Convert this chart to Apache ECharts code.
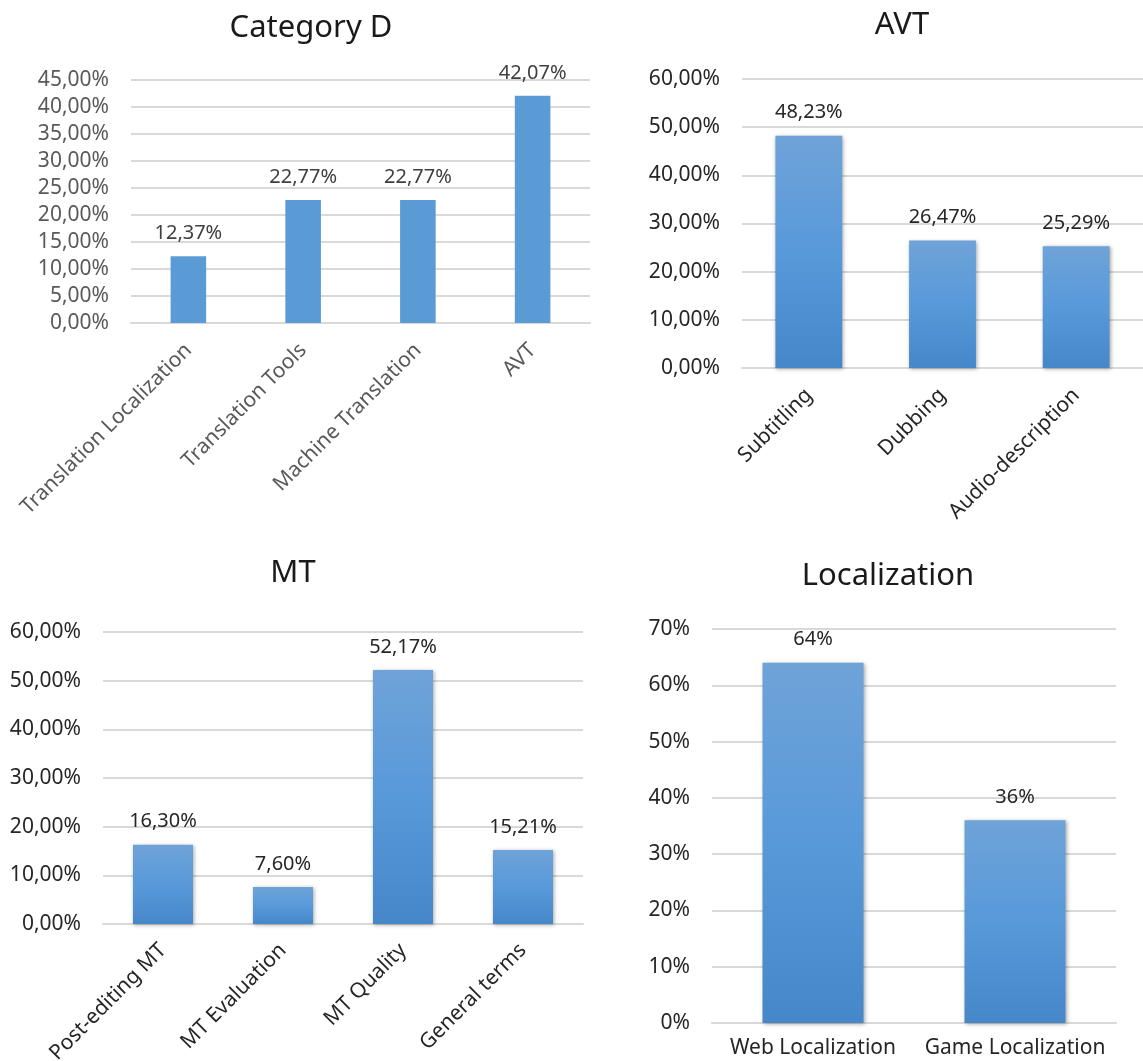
<!DOCTYPE html>
<html>
<head>
<meta charset="utf-8">
<script src="https://cdn.jsdelivr.net/npm/echarts@6/dist/echarts.min.js"></script>
<style>
  html, body { margin: 0; padding: 0; background: #ffffff; }
  #chart { width: 1143px; height: 1061px; }
</style>
</head>
<body>
<div id="chart"></div>
<script>
// Category D overview
const catDCategories = ['Translation Localization', 'Translation Tools', 'Machine Translation', 'AVT'];
const catDValues = [12.37, 22.77, 22.77, 42.07];
const catDAxis = [0, 45, 5];

// AVT breakdown
const avtCategories = ['Subtitling', 'Dubbing', 'Audio-description'];
const avtValues = [48.23, 26.47, 25.29];
const avtAxis = [0, 60, 10];

// MT breakdown
const mtCategories = ['Post-editing MT', 'MT Evaluation', 'MT Quality', 'General terms'];
const mtValues = [16.30, 7.60, 52.17, 15.21];
const mtAxis = [0, 60, 10];

// Localization breakdown
const locCategories = ['Web Localization', 'Game Localization'];
const locValues = [64, 36];
const locAxis = [0, 70, 10];

const FONT = '"Noto Sans", "Open Sans", sans-serif';
const GRID_COLOR = '#d9d9d9';

const pct2 = v => v.toFixed(2).replace('.', ',') + '%';
const pct0 = v => Math.round(v) + '%';

const gradientFill = () => new echarts.graphic.LinearGradient(0, 0, 0, 1, [
  { offset: 0, color: '#6fa3d8' },
  { offset: 0.5, color: '#5899da' },
  { offset: 1, color: '#4587c8' }
]);

function titleAt(text, x, y) {
  return {
    text: text, left: x, top: y, textAlign: 'center', padding: 0,
    textStyle: { fontFamily: FONT, fontSize: 31, fontWeight: 'normal', color: '#1a1a1a' }
  };
}

function gridBox(left, top, width, height) {
  // fixed plot rectangles; long rotated labels may run past the canvas edge
  return { left: left, top: top, width: width, height: height, containLabel: false, outerBoundsMode: 'none' };
}

function valueAxis(idx, range, fmt, color) {
  return {
    type: 'value', gridIndex: idx, min: range[0], max: range[1], interval: range[2],
    axisLine: { show: false }, axisTick: { show: false },
    splitLine: { lineStyle: { color: GRID_COLOR, width: 2 } },
    axisLabel: { formatter: fmt, color: color, fontFamily: FONT, fontSize: 21, margin: 22 }
  };
}

function categoryAxis(idx, cats, rotate, margin, color) {
  return {
    type: 'category', gridIndex: idx, data: cats,
    axisLine: { lineStyle: { color: GRID_COLOR, width: 2 } },
    axisTick: { show: false },
    axisLabel: { rotate: rotate, interval: 0, margin: margin, color: color, fontFamily: FONT, fontSize: 21 }
  };
}

function barSeries(idx, values, fmt, gap, fill, labelColor, shadow) {
  const s = {
    type: 'bar', xAxisIndex: idx, yAxisIndex: idx, data: values,
    barCategoryGap: gap,
    itemStyle: { color: fill },
    label: { show: true, position: 'top', distance: 13, formatter: p => fmt(p.value),
             color: labelColor, fontFamily: FONT, fontSize: 20 },
    silent: true, animation: false
  };
  if (shadow) {
    s.itemStyle.shadowColor = 'rgba(0,0,0,0.35)';
    s.itemStyle.shadowBlur = 4;
    s.itemStyle.shadowOffsetX = 1;
    s.itemStyle.shadowOffsetY = 1;
  }
  return s;
}

const chart = echarts.init(document.getElementById('chart'), null, { renderer: 'canvas' });

chart.setOption({
  backgroundColor: '#ffffff',
  animation: false,
  title: [
    titleAt('Category D', 311, 13),
    titleAt('AVT', 902, 10),
    titleAt('MT', 293, 558),
    titleAt('Localization', 888, 561)
  ],
  grid: [
    gridBox(131, 80, 459, 243),
    gridBox(742, 79, 401, 289),
    gridBox(103, 632, 480, 292),
    gridBox(712, 629, 404, 394)
  ],
  xAxis: [
    categoryAxis(0, catDCategories, 45, 24, '#595959'),
    categoryAxis(1, avtCategories, 45, 24, '#262626'),
    categoryAxis(2, mtCategories, 45, 23, '#262626'),
    categoryAxis(3, locCategories, 0, 15, '#262626')
  ],
  yAxis: [
    valueAxis(0, catDAxis, pct2, '#595959'),
    valueAxis(1, avtAxis, pct2, '#262626'),
    valueAxis(2, mtAxis, pct2, '#262626'),
    valueAxis(3, locAxis, pct0, '#262626')
  ],
  series: [
    barSeries(0, catDValues, pct2, '69%', '#5b9bd5', '#404040', false),
    barSeries(1, avtValues, pct2, '50%', gradientFill(), '#262626', true),
    barSeries(2, mtValues, pct2, '50%', gradientFill(), '#262626', true),
    barSeries(3, locValues, pct0, '50%', gradientFill(), '#262626', true)
  ]
});
</script>
</body>
</html>
